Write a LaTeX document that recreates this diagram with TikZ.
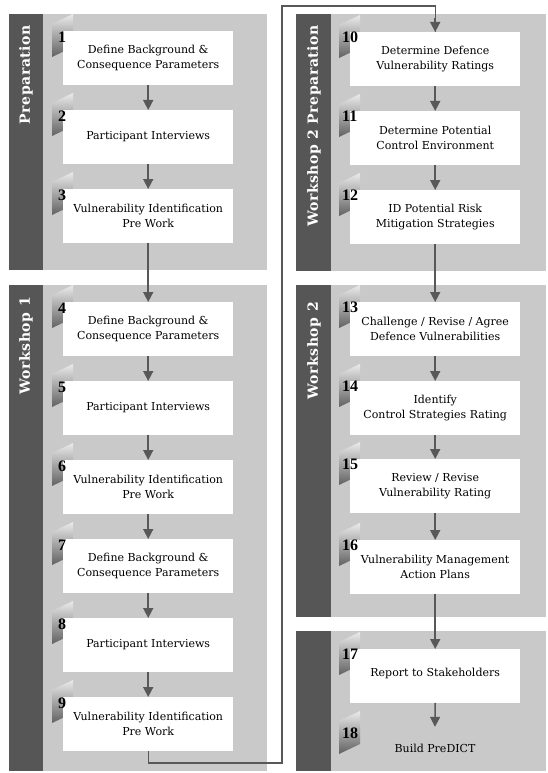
\documentclass[tikz,border=0pt]{standalone}
\usepackage{fontspec}
\setmainfont{DejaVu Serif}
\newfontfamily\lblfont[LetterSpace=4]{DejaVu Serif}
\newfontfamily\numfont{Liberation Serif}
\usetikzlibrary{arrows.meta}
\definecolor{panelgray}{HTML}{C9C9C9}
\definecolor{stripgray}{HTML}{565656}
\definecolor{arrgray}{HTML}{585858}
\tikzset{
  panel/.style={fill=panelgray, draw=none},
  stripbox/.style={fill=stripgray, draw=none},
  taskbox/.style={fill=white, draw=none, minimum width=170pt, minimum height=53.5pt,
    inner sep=0pt, align=center, anchor=north west, font=\fontsize{11}{14.5}\selectfont},
  numlbl/.style={font=\numfont\bfseries\fontsize{16}{16}\selectfont, inner sep=0pt, anchor=west},
  badgefill/.style={top color=black!8, bottom color=black!62},
  flow/.style={draw=arrgray, line width=1.6pt, -{Triangle[length=10pt,width=10pt]}},
  link/.style={draw=arrgray, line width=1.1pt},
  striplbl/.style={rotate=90, anchor=east, text=white, inner sep=0pt,
    font=\lblfont\bfseries\fontsize{14}{14}\selectfont},
}
\newcommand\mybadge[3]{% L, T, number
  \path[badgefill] (#1-11,#2-7) -- (#1+10,#2-17) -- (#1+10,#2+16) -- (#1-11,#2+26) -- cycle;}
\begin{document}
\begin{tikzpicture}[x=1pt,y=-1pt]
\useasboundingbox (0,0) rectangle (547,773);
% panels
\fill[panel] (43,14) rectangle (267,270);
\fill[stripbox] (9,14) rectangle (43,270);
\fill[panel] (43,285) rectangle (267,771);
\fill[stripbox] (9,285) rectangle (43,771);
\fill[panel] (331,14) rectangle (546,271);
\fill[stripbox] (296,14) rectangle (331,271);
\fill[panel] (331,285) rectangle (546,617);
\fill[stripbox] (296,285) rectangle (331,617);
\fill[panel] (331,631) rectangle (546,771);
\fill[stripbox] (296,631) rectangle (331,771);
% strip labels
\node[striplbl] (lp) at (26,25) {Preparation};
\node[striplbl] (lw1) at (26,297) {Workshop 1};
\node[striplbl] (lw2p) at (314,25) {Workshop 2 Preparation};
\node[striplbl] (lw2) at (314,302) {Workshop 2};
% badges
\mybadge{63}{31}{1}
\mybadge{63}{110}{2}
\mybadge{63}{189}{3}
\mybadge{63}{302}{4}
\mybadge{63}{381}{5}
\mybadge{63}{460}{6}
\mybadge{63}{539}{7}
\mybadge{63}{618}{8}
\mybadge{63}{697}{9}
\mybadge{350}{32}{10}
\mybadge{350}{111}{11}
\mybadge{350}{190}{12}
\mybadge{350}{302}{13}
\mybadge{350}{381}{14}
\mybadge{350}{459}{15}
\mybadge{350}{540}{16}
\mybadge{350}{649}{17}
\mybadge{350}{728}{18}
% boxes
\node[taskbox] (b1) at (63,31) {Define Background \&\\Consequence Parameters};
\node[taskbox] (b2) at (63,110) {Participant Interviews};
\node[taskbox] (b3) at (63,189) {Vulnerability Identification\\Pre Work};
\node[taskbox] (b4) at (63,302) {Define Background \&\\Consequence Parameters};
\node[taskbox] (b5) at (63,381) {Participant Interviews};
\node[taskbox] (b6) at (63,460) {Vulnerability Identification\\Pre Work};
\node[taskbox] (b7) at (63,539) {Define Background \&\\Consequence Parameters};
\node[taskbox] (b8) at (63,618) {Participant Interviews};
\node[taskbox] (b9) at (63,697) {Vulnerability Identification\\Pre Work};
\node[taskbox] (b10) at (350,32) {Determine Defence\\Vulnerability Ratings};
\node[taskbox] (b11) at (350,111) {Determine Potential\\Control Environment};
\node[taskbox] (b12) at (350,190) {ID Potential Risk\\Mitigation Strategies};
\node[taskbox] (b13) at (350,302) {Challenge / Revise / Agree\\Defence Vulnerabilities};
\node[taskbox] (b14) at (350,381) {Identify\\Control Strategies Rating};
\node[taskbox] (b15) at (350,459) {Review / Revise\\Vulnerability Rating};
\node[taskbox] (b16) at (350,540) {Vulnerability Management\\Action Plans};
\node[taskbox] (b17) at (350,649) {\raisebox{7pt}{Report to Stakeholders}};
\node[font=\fontsize{11}{14.5}\selectfont, minimum height=42pt, inner sep=0pt] (b18) at (435,748) {Build PreDICT};
% numbers
\node[numlbl] (n1) at (58,37) {1};
\node[numlbl] (n2) at (58,116) {2};
\node[numlbl] (n3) at (58,195) {3};
\node[numlbl] (n4) at (58,308) {4};
\node[numlbl] (n5) at (58,387) {5};
\node[numlbl] (n6) at (58,466) {6};
\node[numlbl] (n7) at (58,545) {7};
\node[numlbl] (n8) at (58,624) {8};
\node[numlbl] (n9) at (58,703) {9};
\node[numlbl] (n10) at (342,37) {10};
\node[numlbl] (n11) at (342,116) {11};
\node[numlbl] (n12) at (342,195) {12};
\node[numlbl] (n13) at (342,307) {13};
\node[numlbl] (n14) at (342,386) {14};
\node[numlbl] (n15) at (342,464) {15};
\node[numlbl] (n16) at (342,545) {16};
\node[numlbl] (n17) at (342,654) {17};
\node[numlbl] (n18) at (342,733) {18};
% flow arrows
\draw[flow] (b1.south) -- (b2.north);
\draw[flow] (b2.south) -- (b3.north);
\draw[flow] (b3.south) -- (b4.north);
\draw[flow] (b4.south) -- (b5.north);
\draw[flow] (b5.south) -- (b6.north);
\draw[flow] (b6.south) -- (b7.north);
\draw[flow] (b7.south) -- (b8.north);
\draw[flow] (b8.south) -- (b9.north);
\draw[flow] (b10.south) -- (b11.north);
\draw[flow] (b11.south) -- (b12.north);
\draw[flow] (b12.south) -- (b13.north);
\draw[flow] (b13.south) -- (b14.north);
\draw[flow] (b14.south) -- (b15.north);
\draw[flow] (b15.south) -- (b16.north);
\draw[flow] (b16.south) -- (b17.north);
\draw[flow] (b17.south) -- (b18.north);
% cross-column connector
\coordinate (c1) at (282,763);
\coordinate (c2) at (282,6);
\draw[link] (b9.south) |- (c1) -- (c2) -| (b10.north);
\draw[flow] (b10.north) ++(0,-14) -- (b10.north);
\end{tikzpicture}
\end{document}
